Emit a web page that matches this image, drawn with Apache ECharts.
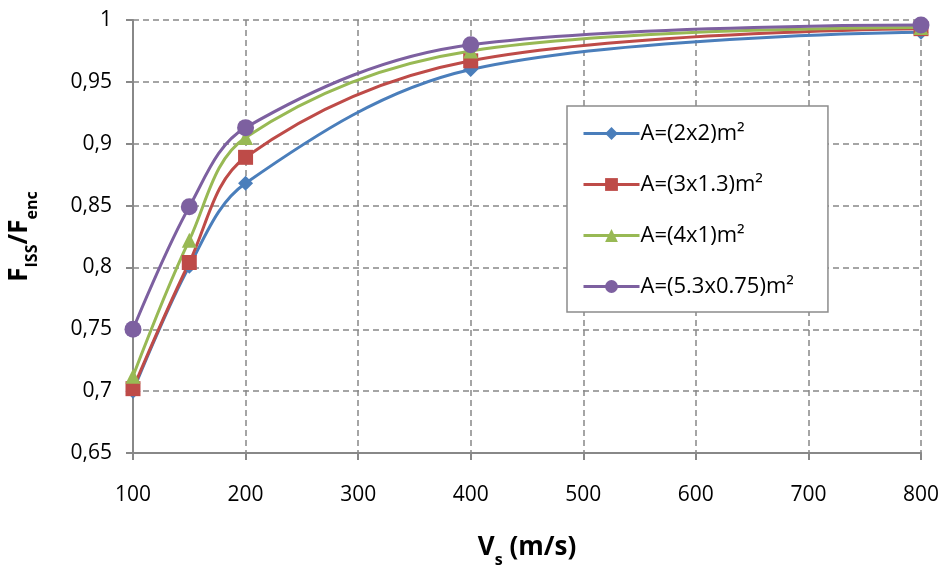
<!DOCTYPE html>
<html>
<head>
<meta charset="utf-8">
<script src="https://cdn.jsdelivr.net/npm/echarts@6/dist/echarts.min.js"></script>
<style>
html, body { margin: 0; padding: 0; background: #fff; }
#main { width: 945px; height: 569px; }
</style>
</head>
<body>
<div id="main"></div>
<script>
// Vs values (m/s)
var vs = [100, 150, 200, 400, 800];
// F_ISS / F_enc for each footing area
var a2x2 = [0.700, 0.801, 0.868, 0.960, 0.990];
var a3x13 = [0.702, 0.804, 0.889, 0.967, 0.993];
var a4x1 = [0.712, 0.822, 0.905, 0.975, 0.994];
var a53x075 = [0.750, 0.849, 0.913, 0.980, 0.996];
var names = ['A=(2x2)m²', 'A=(3x1.3)m²', 'A=(4x1)m²', 'A=(5.3x0.75)m²'];

var colors = ['#4a7ebb', '#be4b48', '#98b954', '#7d60a0'];
var symbols = ['diamond', 'rect', 'triangle', 'circle'];
var sizes = [15, 15, 15, 17];

function pairs(ys) {
    var out = [];
    for (var i = 0; i < vs.length; i++) {
        out.push([vs[i], ys[i]]);
    }
    return out;
}

var allData = [a2x2, a3x13, a4x1, a53x075];
var series = [];
for (var i = 0; i < allData.length; i++) {
    series.push({
        name: names[i],
        type: 'line',
        smooth: 0.35,
        symbol: symbols[i],
        symbolSize: sizes[i],
        showAllSymbol: true,
        itemStyle: { color: colors[i] },
        lineStyle: { color: colors[i], width: 3 },
        data: pairs(allData[i])
    });
}

var chart = echarts.init(document.getElementById('main'), null, { renderer: 'canvas' });

var font = "'Open Sans', 'Liberation Sans', sans-serif";

// bold name with subscripts
var nameRich = {
    b: { fontSize: 26, fontWeight: 'bold', color: '#000', fontFamily: font, lineHeight: 34, verticalAlign: 'bottom' },
    s: { fontSize: 16, fontWeight: 'bold', color: '#000', fontFamily: font, lineHeight: 34, verticalAlign: 'bottom', padding: [0, 0, -7, 0] }
};

var option = {
    animation: false,
    textStyle: { fontFamily: font },
    grid: { left: 133, right: 24, top: 20, bottom: 116, outerBoundsMode: 'none', containLabel: false },
    legend: {
        orient: 'vertical',
        left: 567,
        top: 106,
        itemWidth: 56,
        itemHeight: 16,
        itemGap: 24,
        padding: [14, 34, 12, 15],
        backgroundColor: '#fff',
        borderColor: '#8c8c8c',
        borderWidth: 1.5,
        borderRadius: 0,
        lineStyle: { width: 3 },
        textStyle: { fontSize: 22, color: '#000', fontFamily: font, lineHeight: 27, padding: [0, 0, 0, -4] },
        data: names
    },
    xAxis: {
        type: 'value',
        min: 100,
        max: 800,
        interval: 100,
        name: '{b|V}{s|s}{b| (m/s)}',
        nameLocation: 'middle',
        nameGap: 74,
        nameTextStyle: { rich: nameRich },
        axisLine: { lineStyle: { color: '#888', width: 2 } },
        axisTick: { show: true, length: 7, lineStyle: { color: '#888', width: 2 } },
        axisLabel: { fontSize: 21, color: '#000', margin: 32 },
        splitLine: { show: true, lineStyle: { color: '#888', type: [6, 4], width: 1.5 } }
    },
    yAxis: {
        type: 'value',
        min: 0.65,
        max: 1,
        interval: 0.05,
        name: '{b|F}{s|ISS}{b|/F}{s|enc}',
        nameLocation: 'middle',
        nameRotate: 90,
        nameGap: 100,
        nameTextStyle: { rich: nameRich },
        axisLine: { show: true, lineStyle: { color: '#888', width: 2 } },
        axisTick: { show: true, length: 7, lineStyle: { color: '#888', width: 2 } },
        axisLabel: {
            fontSize: 21,
            color: '#000',
            margin: 21,
            formatter: function (v) {
                var s = (Math.round(v * 100) / 100).toString();
                return s.replace('.', ',');
            }
        },
        splitLine: { show: true, lineStyle: { color: '#888', type: [6, 4], width: 1.5 } }
    },
    series: series
};

chart.setOption(option);
window.addEventListener('resize', chart.resize);
</script>
</body>
</html>
